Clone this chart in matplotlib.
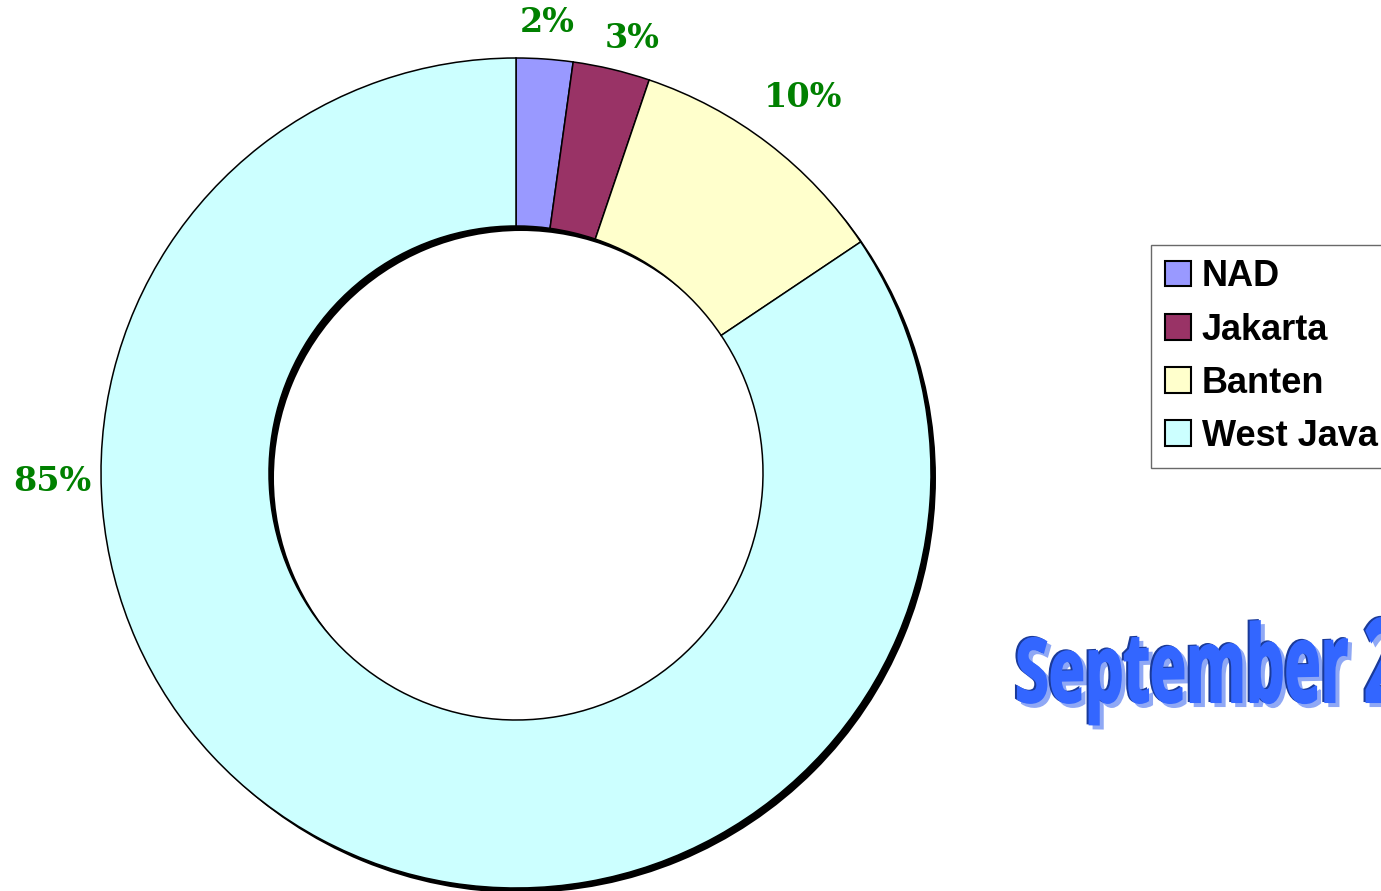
import numpy as np
import matplotlib.pyplot as plt
from matplotlib.textpath import TextPath
from matplotlib.patches import PathPatch, Wedge
from matplotlib.path import Path
from matplotlib.font_manager import FontProperties

# data
regions = ['NAD', 'Jakarta', 'Banten', 'West Java']
shares = [2.2, 3.0, 10.4, 84.4]
pct_labels = ['2%', '3%', '10%', '85%']
colors = ['#9999FF', '#993366', '#FFFFCC', '#CCFFFF']
title = 'September 2008'

W, H = 1381, 891
fig = plt.figure(figsize=(W / 100, H / 100), dpi=100)
ax = fig.add_axes([0, 0, 1, 1])

cx, cy = 516, H - 473
R, r_in = 415, 247

# shadow ring
ax.add_patch(Wedge((cx + 5, cy - 5), R, 0, 360, width=R - r_in,
                   facecolor='black', edgecolor='none', zorder=0))

wedges, _ = ax.pie(shares, colors=colors, startangle=90, counterclock=False,
                   radius=R, center=(cx, cy),
                   wedgeprops=dict(width=R - r_in, edgecolor='black', linewidth=1.1))
for w in wedges:
    w.set_zorder(1)

# percent labels (excel style placement)
lab_dist = [1.087, 1.085, 1.14, 1.118]
lab_angle = [None, 75, None, 181]
for w, txt, d, a in zip(wedges, pct_labels, lab_dist, lab_angle):
    if a is None:
        a = (w.theta1 + w.theta2) / 2
    x = cx + d * R * np.cos(np.radians(a))
    y = cy + d * R * np.sin(np.radians(a))
    ax.text(x, y, txt, ha='center', va='center', color='#008000',
            fontsize=24, fontweight='heavy', family='DejaVu Serif')

ax.set_xlim(0, W)
ax.set_ylim(0, H)
ax.set_aspect('auto')
ax.axis('off')

leg = fig.legend(wedges, regions, loc='upper left',
                 bbox_to_anchor=(1151 / W, 1 - 245 / H), borderaxespad=0,
                 prop=FontProperties(family='Liberation Sans', weight='bold', size=26),
                 handlelength=0.7, handleheight=0.7, handletextpad=0.3,
                 labelspacing=0.5, borderpad=0.4, fancybox=False)
leg.get_frame().set_edgecolor('#444444')
leg.get_frame().set_linewidth(1.0)
for h in leg.legend_handles:
    h.set_edgecolor('black')
    h.set_linewidth(1.5)

# wordart-like title with a little perspective
fp = FontProperties(family='Open Sans', weight='bold')
word = TextPath((0, 0), 'September', size=100, prop=fp).get_extents()
cap = TextPath((0, 0), 'S', size=100, prop=fp).get_extents()
tp = TextPath((0, 0), title, size=100, prop=fp)
x0, x1, base = 1018, 1347, H - 702
sx = (x1 - x0) / word.width
sy = 64 / cap.height
v = tp.vertices.copy()
vx = x0 + (v[:, 0] - word.x0) * sx
grow = 1 + 0.3 * (vx - x0) / (x1 - x0)
vy = base + v[:, 1] * sy * grow
pts = np.column_stack([vx, vy])
ax.add_patch(PathPatch(Path(pts + [4, -4], tp.codes), facecolor='#8FA8F5',
                       edgecolor='#8FA8F5', linewidth=1.5, zorder=3))
ax.add_patch(PathPatch(Path(pts + [-2, 1], tp.codes), facecolor='#1A3A99',
                       edgecolor='#1A3A99', linewidth=1.5, zorder=4))
ax.add_patch(PathPatch(Path(pts, tp.codes), facecolor='#3366FF',
                       edgecolor='#3366FF', linewidth=1.5, zorder=5))

fig.savefig('out.png', dpi=100)
